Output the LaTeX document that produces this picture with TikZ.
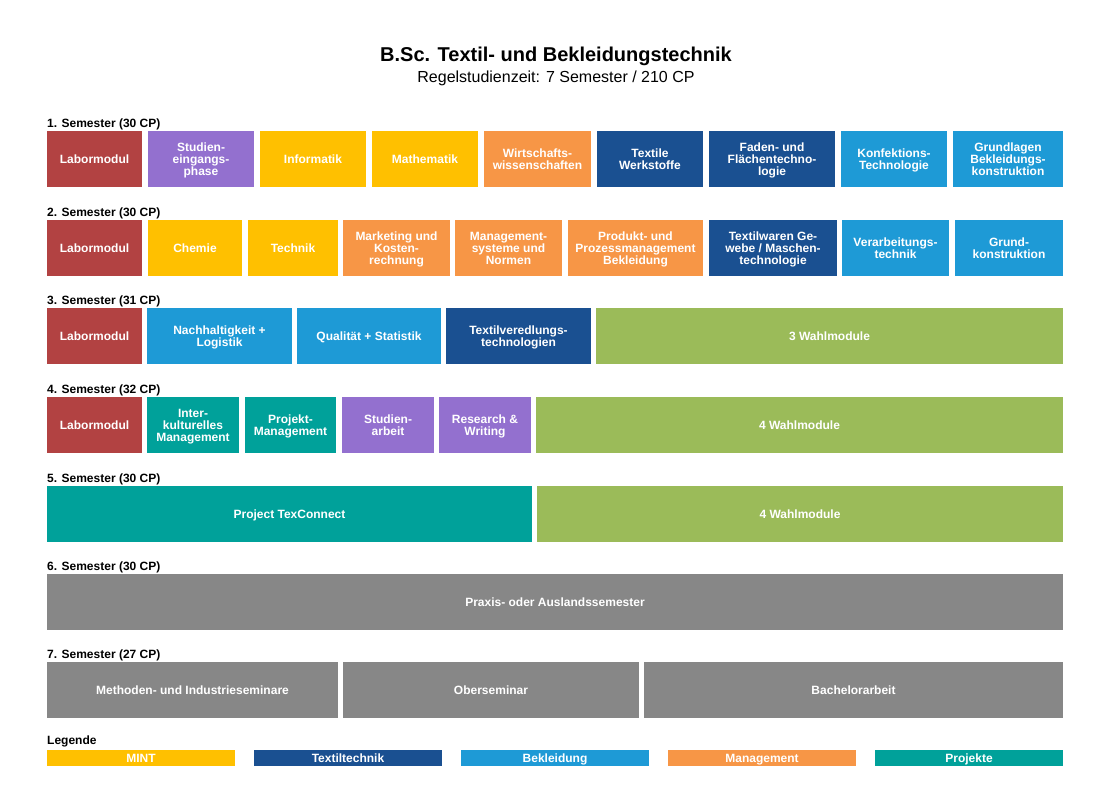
\documentclass[tikz,border=0pt]{standalone}
\usepackage{fontspec}
\setmainfont{Liberation Sans}
\definecolor{labred}{HTML}{B24242}
\definecolor{lila}{HTML}{9370CF}
\definecolor{mint}{HTML}{FFC000}
\definecolor{textil}{HTML}{1A5091}
\definecolor{bekl}{HTML}{1E9AD6}
\definecolor{mgmt}{HTML}{F79646}
\definecolor{proj}{HTML}{00A19A}
\definecolor{wahl}{HTML}{9BBB59}
\definecolor{grau}{HTML}{878787}
\newcommand\strA{\rule{0pt}{11.4pt}}
\newcommand\strB{\rule[-2.6pt]{0pt}{2.6pt}}
\newcommand\modul[6]{%
  \node[modbox, fill=#5, minimum width={#3pt-#2pt}] (#1) at ({(#2+#3)/2},{#4+28}) {\strA#6\strB};}
\newcommand\legbar[5]{%
  \node[legbox, fill=#4, minimum width={#3pt-#2pt}] (#1) at ({(#2+#3)/2},758) {\strA#5\strB};}
\newcommand\semlabel[3]{%
  \node[semtext] (#1) at (47,{#2-8}) {\strA#3\strB};}
\begin{document}
\begin{tikzpicture}[x=1pt,y=-1pt,
  modbox/.style={inner sep=0pt, outer sep=0pt, minimum height=56pt, align=center,
     text=white, font=\fontsize{12}{12}\selectfont\bfseries},
  legbox/.style={inner sep=0pt, outer sep=0pt, minimum height=16pt, align=center,
     text=white, font=\fontsize{12}{12}\selectfont\bfseries},
  semtext/.style={anchor=west, inner sep=0pt, font=\fontsize{12}{12}\selectfont\bfseries}]
\useasboundingbox[fill=white] (0,0) rectangle (1111,786);
\node[font=\fontsize{20}{20}\selectfont\bfseries, inner sep=0pt] (title) at (556,56) {\rule[-4pt]{0pt}{20pt}B.Sc. Textil- und Bekleidungstechnik};
\node[font=\fontsize{16}{16}\selectfont, inner sep=0pt] (subtitle) at (556,77.5) {\rule[-3.4pt]{0pt}{16pt}Regelstudienzeit: 7 Semester / 210 CP};
% Semester 1
\semlabel{s1}{131}{1. Semester (30 CP)}
\modul{a1}{47}{142}{131}{labred}{Labormodul}
\modul{a2}{148}{254}{131}{lila}{Studien-\\eingangs-\\phase}
\modul{a3}{260}{366}{131}{mint}{Informatik}
\modul{a4}{372}{478}{131}{mint}{Mathematik}
\modul{a5}{484}{591}{131}{mgmt}{Wirtschafts-\\wissenschaften}
\modul{a6}{597}{703}{131}{textil}{Textile\\Werkstoffe}
\modul{a7}{709}{835}{131}{textil}{Faden- und\\Flächentechno-\\logie}
\modul{a8}{841}{947}{131}{bekl}{Konfektions-\\Technologie}
\modul{a9}{953}{1063}{131}{bekl}{Grundlagen\\Bekleidungs-\\konstruktion}
% Semester 2
\semlabel{s2}{220}{2. Semester (30 CP)}
\modul{b1}{47}{142}{220}{labred}{Labormodul}
\modul{b2}{148}{242}{220}{mint}{Chemie}
\modul{b3}{248}{338}{220}{mint}{Technik}
\modul{b4}{343}{450}{220}{mgmt}{Marketing und\\Kosten-\\rechnung}
\modul{b5}{455}{562}{220}{mgmt}{Management-\\systeme und\\Normen}
\modul{b6}{568}{703}{220}{mgmt}{Produkt- und\\Prozessmanagement\\Bekleidung}
\modul{b7}{709}{837}{220}{textil}{Textilwaren Ge-\\webe / Maschen-\\technologie}
\modul{b8}{842}{949}{220}{bekl}{Verarbeitungs-\\technik}
\modul{b9}{955}{1063}{220}{bekl}{Grund-\\konstruktion}
% Semester 3
\semlabel{s3}{308}{3. Semester (31 CP)}
\modul{c1}{47}{142}{308}{labred}{Labormodul}
\modul{c2}{147}{292}{308}{bekl}{Nachhaltigkeit +\\Logistik}
\modul{c3}{297}{441}{308}{bekl}{Qualität + Statistik}
\modul{c4}{446}{591}{308}{textil}{Textilveredlungs-\\technologien}
\modul{c5}{596}{1063}{308}{wahl}{3 Wahlmodule}
% Semester 4
\semlabel{s4}{397}{4. Semester (32 CP)}
\modul{d1}{47}{142}{397}{labred}{Labormodul}
\modul{d2}{147}{239}{397}{proj}{Inter-\\kulturelles\\Management}
\modul{d3}{245}{336}{397}{proj}{Projekt-\\Management}
\modul{d4}{342}{434}{397}{lila}{Studien-\\arbeit}
\modul{d5}{439}{531}{397}{lila}{Research \&\\Writing}
\modul{d6}{536}{1063}{397}{wahl}{4 Wahlmodule}
% Semester 5
\semlabel{s5}{486}{5. Semester (30 CP)}
\modul{e1}{47}{532}{486}{proj}{Project TexConnect}
\modul{e2}{537}{1063}{486}{wahl}{4 Wahlmodule}
% Semester 6
\semlabel{s6}{574}{6. Semester (30 CP)}
\modul{f1}{47}{1063}{574}{grau}{Praxis- oder Auslandssemester}
% Semester 7
\semlabel{s7}{662}{7. Semester (27 CP)}
\modul{g1}{47}{338}{662}{grau}{Methoden- und Industrieseminare}
\modul{g2}{343}{639}{662}{grau}{Oberseminar}
\modul{g3}{644}{1063}{662}{grau}{Bachelorarbeit}
% Legend
\node[semtext] (leg) at (47,740) {\strA Legende\strB};
\legbar{l1}{47}{235}{mint}{MINT}
\legbar{l2}{254}{442}{textil}{Textiltechnik}
\legbar{l3}{461}{649}{bekl}{Bekleidung}
\legbar{l4}{668}{856}{mgmt}{Management}
\legbar{l5}{875}{1063}{proj}{Projekte}
\end{tikzpicture}
\end{document}
